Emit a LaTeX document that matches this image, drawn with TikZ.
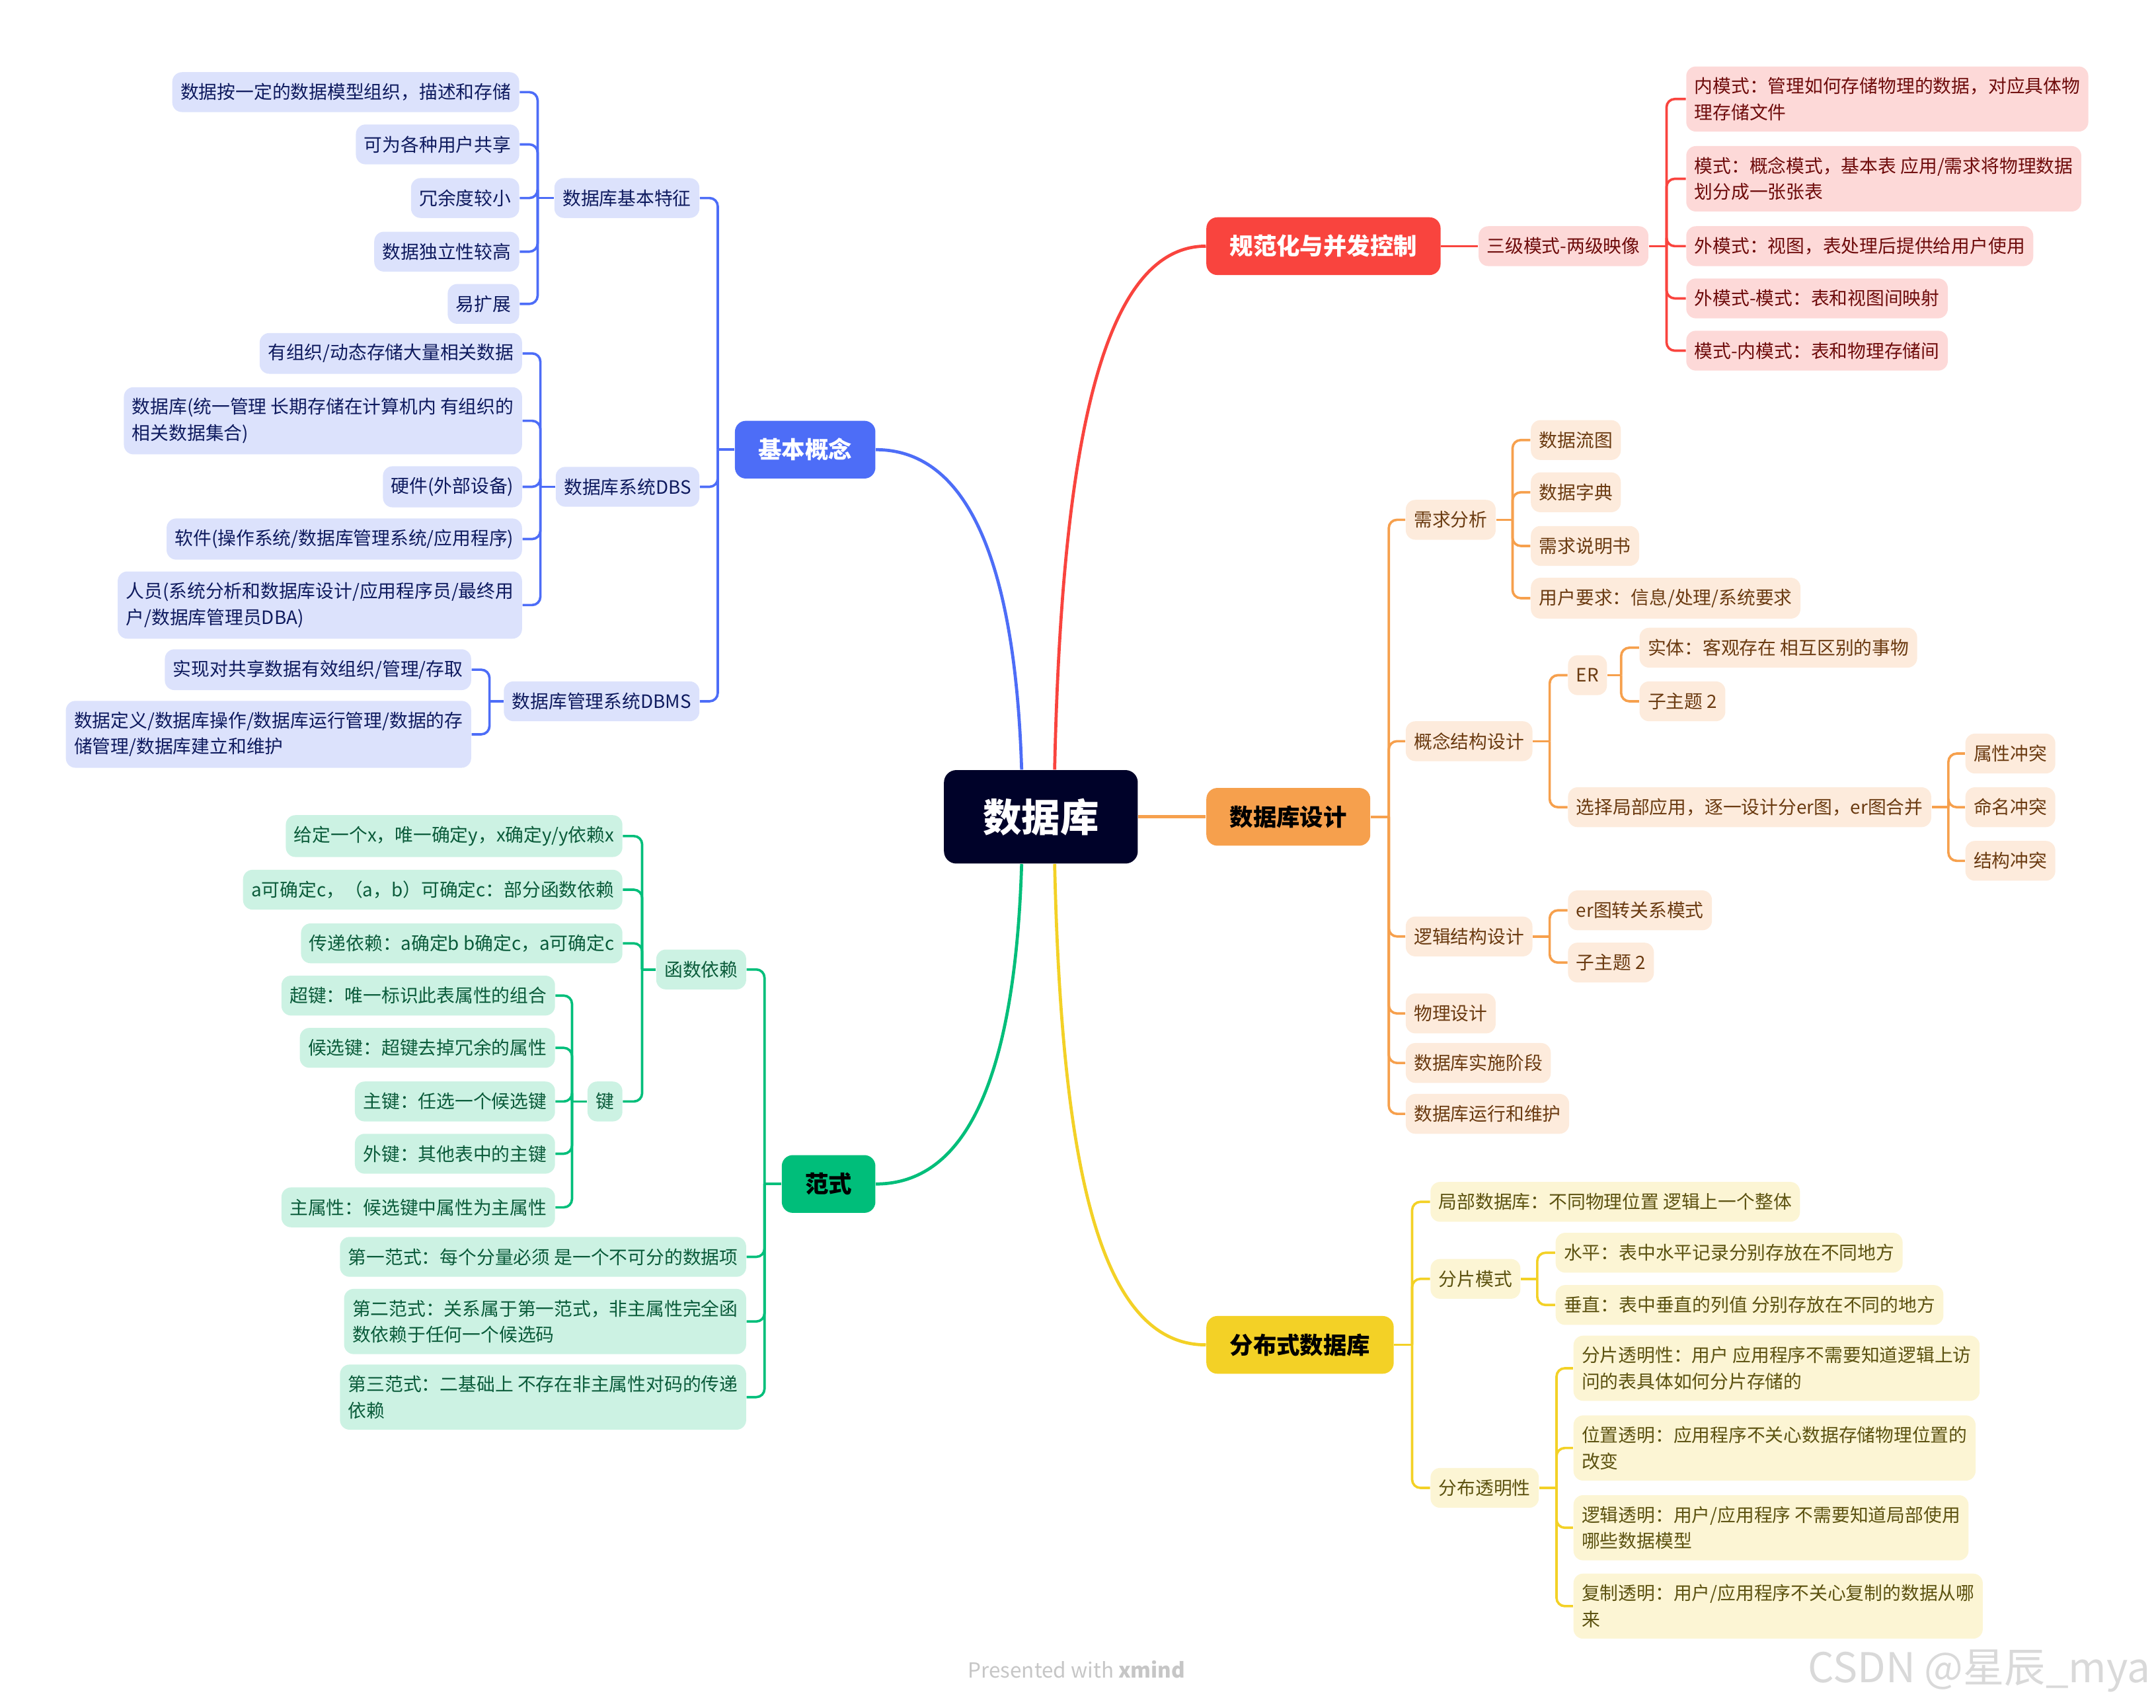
\documentclass[tikz,border=0pt]{standalone}
\usepackage{fontspec}
\setmainfont{Noto Sans CJK SC}
\usepackage{tikz}
\definecolor{cRoot}{HTML}{000229}
\definecolor{rLine}{HTML}{F9443E}
\definecolor{rFill}{HTML}{FDD9D8}
\definecolor{rText}{HTML}{6E0B0B}
\definecolor{bLine}{HTML}{4D6DF7}
\definecolor{bFill}{HTML}{DCE2FC}
\definecolor{bText}{HTML}{0E1A5E}
\definecolor{oLine}{HTML}{F6A04D}
\definecolor{oFill}{HTML}{FDEBDC}
\definecolor{oText}{HTML}{6A3A10}
\definecolor{yLine}{HTML}{F3D126}
\definecolor{yFill}{HTML}{FCF5D4}
\definecolor{yText}{HTML}{5C5210}
\definecolor{gLine}{HTML}{00BE7A}
\definecolor{gFill}{HTML}{CCF2E3}
\definecolor{gText}{HTML}{0A5B3A}

\begin{document}
\begin{tikzpicture}[
    x=0.02cm, y=-0.02cm,
    font=\fontsize{7.6}{10.8}\selectfont,
    rootnode/.style={fill=cRoot, text=white, rounded corners=0.18cm, minimum width=2.82cm, minimum height=1.36cm, font=\fontsize{16}{18}\selectfont\bfseries},
    topic/.style={rounded corners=0.16cm, minimum height=0.84cm, inner xsep=0.34cm, font=\fontsize{9.7}{12}\selectfont\bfseries},
    leaf/.style={rounded corners=0.14cm, minimum height=0.58cm, inner xsep=0.12cm, inner ysep=0.16cm, align=left},
    rleaf/.style={leaf, fill=rFill, text=rText},
    bleaf/.style={leaf, fill=bFill, text=bText},
    oleaf/.style={leaf, fill=oFill, text=oText},
    yleaf/.style={leaf, fill=yFill, text=yText},
    gleaf/.style={leaf, fill=gFill, text=gText},
    branch/.style={line width=1.3pt},
    rline/.style={draw=rLine, line width=1pt, rounded corners=0.12cm},
    bline/.style={draw=bLine, line width=1pt, rounded corners=0.12cm},
    oline/.style={draw=oLine, line width=1pt, rounded corners=0.12cm},
    yline/.style={draw=yLine, line width=1pt, rounded corners=0.12cm},
    gline/.style={draw=gLine, line width=1pt, rounded corners=0.12cm},
]
\useasboundingbox (0,0) rectangle (1568,1242);

% ---- root and main topics ----
\node[rootnode] (root) at (757,594) {数据库};
\node[topic, fill=rLine, text=white, anchor=west] (gfh) at (877,179) {规范化与并发控制};
\node[topic, fill=bLine, text=white, anchor=east] (jbgn) at (637,327) {基本概念};
\node[topic, fill=oLine, anchor=west] (sjsj) at (877,594) {数据库设计};
\node[topic, fill=gLine, anchor=east] (fs) at (637,861) {范式};
\node[topic, fill=yLine, anchor=west] (fbs) at (877,978) {分布式数据库};

\draw[branch, bLine] ([xshift=-0.28cm]root.north) .. controls (738,400) and (700,327) .. (jbgn.east);
\draw[branch, rLine] ([xshift=0.2cm]root.north) .. controls (772,330) and (800,179) .. (gfh.west);
\draw[branch, oLine] (root.east) -- (sjsj.west);
\draw[branch, gLine] ([xshift=-0.28cm]root.south) .. controls (738,790) and (700,861) .. (fs.east);
\draw[branch, yLine] ([xshift=0.2cm]root.south) .. controls (772,850) and (800,978) .. (fbs.west);

% ---- 规范化与并发控制 ----
\node[rleaf, anchor=west] (sjms) at (1075,179) {三级模式-两级映像};
\node[rleaf, anchor=west] (nms) at (1226,72) {内模式：管理如何存储物理的数据，对应具体物\\理存储文件};
\node[rleaf, anchor=west] (ms) at (1226,130) {模式：概念模式，基本表 应用/需求将物理数据\\划分成一张张表};
\node[rleaf, anchor=west] (wms) at (1226,179) {外模式：视图，表处理后提供给用户使用};
\node[rleaf, anchor=west] (wmsms) at (1226,217) {外模式-模式：表和视图间映射};
\node[rleaf, anchor=west] (msnms) at (1226,255) {模式-内模式：表和物理存储间};

\draw[rline] (gfh.east) -- (sjms.west);
\draw[rline] (sjms.east) -- (1212,179);
\foreach \n in {nms,ms,wms,wmsms,msnms}
  \draw[rline] (1212,179) |- (\n.west);

% ---- 基本概念 ----
\node[bleaf, anchor=east] (tz) at (509,144) {数据库基本特征};
\node[bleaf, anchor=east] (dbs) at (509,354) {数据库系统DBS};
\node[bleaf, anchor=east] (dbms) at (509,510) {数据库管理系统DBMS};

\node[bleaf, anchor=east] (tz1) at (378,67) {数据按一定的数据模型组织，描述和存储};
\node[bleaf, anchor=east] (tz2) at (378,105) {可为各种用户共享};
\node[bleaf, anchor=east] (tz3) at (378,144) {冗余度较小};
\node[bleaf, anchor=east] (tz4) at (378,183) {数据独立性较高};
\node[bleaf, anchor=east] (tz5) at (378,221) {易扩展};

\node[bleaf, anchor=east] (dbs1) at (380,257) {有组织/动态存储大量相关数据};
\node[bleaf, anchor=east] (dbs2) at (380,306) {数据库(统一管理 长期存储在计算机内 有组织的\\相关数据集合)};
\node[bleaf, anchor=east] (dbs3) at (380,354) {硬件(外部设备)};
\node[bleaf, anchor=east] (dbs4) at (380,392) {软件(操作系统/数据库管理系统/应用程序)};
\node[bleaf, anchor=east] (dbs5) at (380,440) {人员(系统分析和数据库设计/应用程序员/最终用\\户/数据库管理员DBA)};

\node[bleaf, anchor=east] (dbms1) at (343,487) {实现对共享数据有效组织/管理/存取};
\node[bleaf, anchor=east] (dbms2) at (343,534) {数据定义/数据库操作/数据库运行管理/数据的存\\储管理/数据库建立和维护};

\draw[bline] (jbgn.west) -- (522,327);
\foreach \n in {tz,dbs,dbms}
  \draw[bline] (522,327) |- (\n.east);
\draw[bline] (tz.west) -- (391,144);
\foreach \n in {tz1,tz2,tz3,tz4,tz5}
  \draw[bline] (391,144) |- (\n.east);
\draw[bline] (dbs.west) -- (393,354);
\foreach \n in {dbs1,dbs2,dbs3,dbs4,dbs5}
  \draw[bline] (393,354) |- (\n.east);
\draw[bline] (dbms.west) -- (356,510);
\foreach \n in {dbms1,dbms2}
  \draw[bline] (356,510) |- (\n.east);

% ---- 数据库设计 ----
\node[oleaf, anchor=west] (xqfx) at (1022,378) {需求分析};
\node[oleaf, anchor=west] (gnjg) at (1022,539) {概念结构设计};
\node[oleaf, anchor=west] (ljjg) at (1022,681) {逻辑结构设计};
\node[oleaf, anchor=west] (wlsj) at (1022,737) {物理设计};
\node[oleaf, anchor=west] (ssjd) at (1022,773) {数据库实施阶段};
\node[oleaf, anchor=west] (yxwh) at (1022,810) {数据库运行和维护};

\node[oleaf, anchor=west] (xq1) at (1113,320) {数据流图};
\node[oleaf, anchor=west] (xq2) at (1113,358) {数据字典};
\node[oleaf, anchor=west] (xq3) at (1113,397) {需求说明书};
\node[oleaf, anchor=west] (xq4) at (1113,435) {用户要求：信息/处理/系统要求};

\node[oleaf, anchor=west] (er) at (1140,491) {ER};
\node[oleaf, anchor=west] (jbyy) at (1140,587) {选择局部应用，逐一设计分er图，er图合并};
\node[oleaf, anchor=west] (er1) at (1192,471) {实体：客观存在 相互区别的事物};
\node[oleaf, anchor=west] (er2) at (1192,510) {子主题 2};
\node[oleaf, anchor=west] (ct1) at (1429,548) {属性冲突};
\node[oleaf, anchor=west] (ct2) at (1429,587) {命名冲突};
\node[oleaf, anchor=west] (ct3) at (1429,626) {结构冲突};

\node[oleaf, anchor=west] (lj1) at (1140,662) {er图转关系模式};
\node[oleaf, anchor=west] (lj2) at (1140,700) {子主题 2};

\draw[oline] (sjsj.east) -- (1010,594);
\foreach \n in {xqfx,gnjg,ljjg,wlsj,ssjd,yxwh}
  \draw[oline] (1010,594) |- (\n.west);
\draw[oline] (xqfx.east) -- (1100,378);
\foreach \n in {xq1,xq2,xq3,xq4}
  \draw[oline] (1100,378) |- (\n.west);
\draw[oline] (gnjg.east) -- (1127,539);
\foreach \n in {er,jbyy}
  \draw[oline] (1127,539) |- (\n.west);
\draw[oline] (er.east) -- (1179,491);
\foreach \n in {er1,er2}
  \draw[oline] (1179,491) |- (\n.west);
\draw[oline] (jbyy.east) -- (1417,587);
\foreach \n in {ct1,ct2,ct3}
  \draw[oline] (1417,587) |- (\n.west);
\draw[oline] (ljjg.east) -- (1127,681);
\foreach \n in {lj1,lj2}
  \draw[oline] (1127,681) |- (\n.west);

% ---- 分布式数据库 ----
\node[yleaf, anchor=west] (jbsjk) at (1040,874) {局部数据库：不同物理位置 逻辑上一个整体};
\node[yleaf, anchor=west] (fpms) at (1040,930) {分片模式};
\node[yleaf, anchor=west] (fbtm) at (1040,1082) {分布透明性};

\node[yleaf, anchor=west] (fp1) at (1131,911) {水平：表中水平记录分别存放在不同地方};
\node[yleaf, anchor=west] (fp2) at (1131,949) {垂直：表中垂直的列值 分别存放在不同的地方};

\node[yleaf, anchor=west] (tm1) at (1144,995) {分片透明性：用户 应用程序不需要知道逻辑上访\\问的表具体如何分片存储的};
\node[yleaf, anchor=west] (tm2) at (1144,1053) {位置透明：应用程序不关心数据存储物理位置的\\改变};
\node[yleaf, anchor=west] (tm3) at (1144,1111) {逻辑透明：用户/应用程序 不需要知道局部使用\\哪些数据模型};
\node[yleaf, anchor=west] (tm4) at (1144,1168) {复制透明：用户/应用程序不关心复制的数据从哪\\来};

\draw[yline] (fbs.east) -- (1027,978);
\foreach \n in {jbsjk,fpms,fbtm}
  \draw[yline] (1027,978) |- (\n.west);
\draw[yline] (fpms.east) -- (1118,930);
\foreach \n in {fp1,fp2}
  \draw[yline] (1118,930) |- (\n.west);
\draw[yline] (fbtm.east) -- (1132,1082);
\foreach \n in {tm1,tm2,tm3,tm4}
  \draw[yline] (1132,1082) |- (\n.west);

% ---- 范式 ----
\node[gleaf, anchor=east] (hsyl) at (543,705) {函数依赖};
\node[gleaf, anchor=east] (nf1) at (543,914) {第一范式：每个分量必须 是一个不可分的数据项};
\node[gleaf, anchor=east] (nf2) at (543,961) {第二范式：关系属于第一范式，非主属性完全函\\数依赖于任何一个候选码};
\node[gleaf, anchor=east] (nf3) at (543,1016) {第三范式：二基础上 不存在非主属性对码的传递\\依赖};

\node[gleaf, anchor=east] (hs1) at (453,608) {给定一个x，唯一确定y，x确定y/y依赖x};
\node[gleaf, anchor=east] (hs2) at (453,647) {a可确定c，（a，b）可确定c：部分函数依赖};
\node[gleaf, anchor=east] (hs3) at (453,686) {传递依赖：a确定b b确定c，a可确定c};
\node[gleaf, anchor=east] (jian) at (453,801) {键};

\node[gleaf, anchor=east] (j1) at (404,724) {超键：唯一标识此表属性的组合};
\node[gleaf, anchor=east] (j2) at (404,762) {候选键：超键去掉冗余的属性};
\node[gleaf, anchor=east] (j3) at (404,801) {主键：任选一个候选键};
\node[gleaf, anchor=east] (j4) at (404,839) {外键：其他表中的主键};
\node[gleaf, anchor=east] (j5) at (404,878) {主属性：候选键中属性为主属性};

\draw[gline] (fs.west) -- (556,861);
\foreach \n in {hsyl,nf1,nf2,nf3}
  \draw[gline] (556,861) |- (\n.east);
\draw[gline] (hsyl.west) -- (467,705);
\foreach \n in {hs1,hs2,hs3,jian}
  \draw[gline] (467,705) |- (\n.east);
\draw[gline] (jian.west) -- (416,801);
\foreach \n in {j1,j2,j3,j4,j5}
  \draw[gline] (416,801) |- (\n.east);

% ---- footer ----
\node[text=gray!45, font=\fontsize{8.6}{10}\selectfont] (credit) at (783,1214) {Presented with \textbf{xmind}};
\node[anchor=east, text=gray!30, font=\fontsize{17}{20}\selectfont] (mark) at (1570,1215) {CSDN @星辰\_mya};

\end{tikzpicture}
\end{document}
